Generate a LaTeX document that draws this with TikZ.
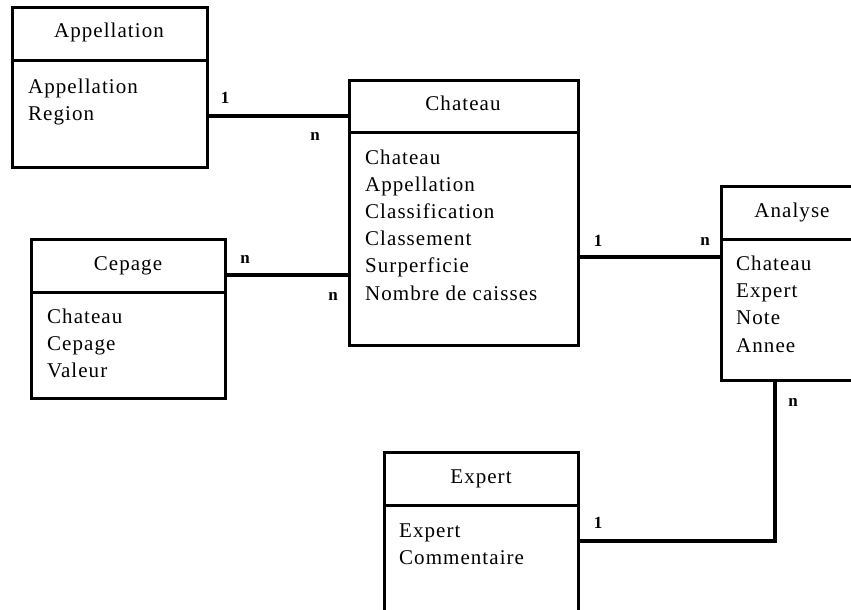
\documentclass[tikz,border=0pt]{standalone}
\usepackage{fontspec}
\setmainfont{Liberation Serif}[LetterSpace=5]
\newfontfamily\lblfont{Liberation Serif}
\begin{document}
\begin{tikzpicture}[x=1pt,y=-1pt,
  ent/.style={draw, line width=3pt, rectangle, inner sep=0pt, outer sep=0pt, anchor=north west},
  hdr/.style={line width=3pt},
  conn/.style={line width=4.5pt},
  ttl/.style={anchor=base, inner sep=0pt, font=\fontsize{21}{27}\selectfont},
  attr/.style={anchor=base west, inner sep=0pt, font=\fontsize{21}{27}\selectfont},
  card/.style={inner sep=0pt, font=\lblfont\bfseries\fontsize{17}{17}\selectfont}]
\useasboundingbox (0,0) rectangle (851,610);

% Appellation
\node[ent, minimum width=195pt, minimum height=159pt] (app) at (12,8) {};
\draw[hdr] (app.west |- 0,61) -- (app.east |- 0,61);
\node[ttl] (appT) at (109,38) {Appellation};
\node[attr] (appA1) at (28,93) {Appellation};
\node[attr] (appA2) at (28,120) {Region};

% Chateau
\node[ent, minimum width=229pt, minimum height=265pt] (chat) at (349,80) {};
\draw[hdr] (chat.west |- 0,132) -- (chat.east |- 0,132);
\node[ttl] (chatT) at (463,110) {Chateau};
\node[attr] (chatA1) at (365,164) {Chateau};
\node[attr] (chatA2) at (365,191.2) {Appellation};
\node[attr] (chatA3) at (365,218.4) {Classification};
\node[attr] (chatA4) at (365,245.6) {Classement};
\node[attr] (chatA5) at (365,272.8) {Surperficie};
\node[attr] (chatA6) at (365,300) {Nombre de caisses};

% Analyse
\node[ent, minimum width=142pt, minimum height=194pt] (ana) at (721,186) {};
\draw[hdr] (ana.west |- 0,239) -- (ana.east |- 0,239);
\node[ttl] (anaT) at (792,217) {Analyse};
\node[attr] (anaA1) at (736,270) {Chateau};
\node[attr] (anaA2) at (736,297.3) {Expert};
\node[attr] (anaA3) at (736,324.6) {Note};
\node[attr] (anaA4) at (736,352) {Annee};

% Cepage
\node[ent, minimum width=194pt, minimum height=159pt] (cep) at (31,239) {};
\draw[hdr] (cep.west |- 0,292) -- (cep.east |- 0,292);
\node[ttl] (cepT) at (128,270) {Cepage};
\node[attr] (cepA1) at (47,323) {Chateau};
\node[attr] (cepA2) at (47,350) {Cepage};
\node[attr] (cepA3) at (47,377) {Valeur};

% Expert
\node[ent, minimum width=194pt, minimum height=200pt] (exp) at (384,452) {};
\draw[hdr] (exp.west |- 0,505) -- (exp.east |- 0,505);
\node[ttl] (expT) at (481,483) {Expert};
\node[attr] (expA1) at (399,537) {Expert};
\node[attr] (expA2) at (399,564) {Commentaire};

% Connectors
\draw[conn] (app.east |- 0,116) -- (chat.west |- 0,116);
\draw[conn] (cep.east |- 0,275) -- (chat.west |- 0,275);
\draw[conn] (chat.east |- 0,257) -- (ana.west |- 0,257);
\draw[conn] (ana.south -| 775,0) |- (exp.east |- 0,541);

% Cardinalities
\node[card] (c1) at (225,98) {1};
\node[card] (c2) at (315,136) {n};
\node[card] (c3) at (245,259) {n};
\node[card] (c4) at (333,296) {n};
\node[card] (c5) at (598,241) {1};
\node[card] (c6) at (705,241) {n};
\node[card] (c7) at (793,402) {n};
\node[card] (c8) at (598,523) {1};
\end{tikzpicture}
\end{document}
